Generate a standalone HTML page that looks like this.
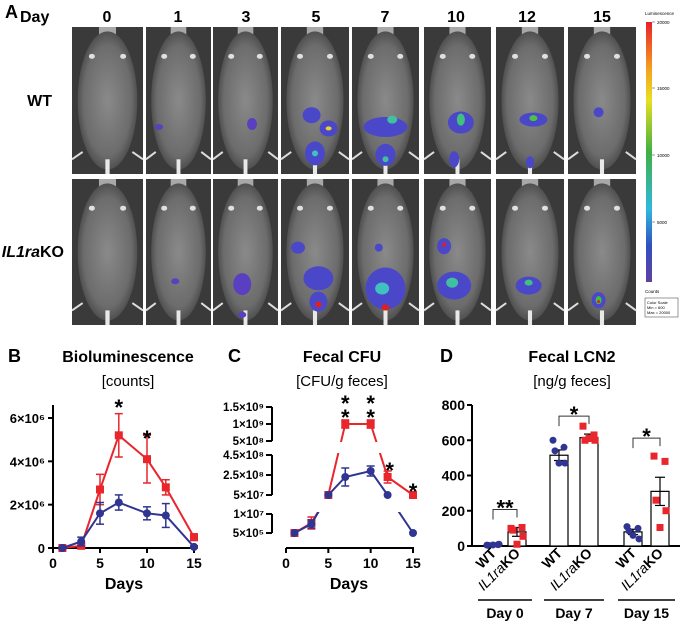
<!DOCTYPE html>
<html><head><meta charset="utf-8"><style>
html,body{margin:0;padding:0;background:#fff;}
svg{display:block;font-family:"Liberation Sans",Arial,sans-serif;}
</style></head><body>
<svg id="fig" width="684" height="625" viewBox="0 0 684 625" xmlns="http://www.w3.org/2000/svg">
<defs>
<linearGradient id="cbar" x1="0" y1="0" x2="0" y2="1">
<stop offset="0" stop-color="#e8202a"/><stop offset="0.18" stop-color="#f5a020"/><stop offset="0.3" stop-color="#e8e020"/>
<stop offset="0.5" stop-color="#40b040"/><stop offset="0.72" stop-color="#30b8e0"/><stop offset="0.86" stop-color="#3050c0"/><stop offset="1" stop-color="#6040a0"/>
</linearGradient>
<radialGradient id="body" cx="0.5" cy="0.5" r="0.5">
<stop offset="0" stop-color="#8a8a8a"/><stop offset="0.8" stop-color="#6c6c6c"/><stop offset="1" stop-color="#505050"/>
</radialGradient>
</defs>
<g id="panelA"></g>
<g id="panelB"></g>
<g id="panelC"></g>
<g id="panelD"></g>
</svg>
<script>
// ---------- data ----------
const imgDays = ["0","1","3","5","7","10","12","15"];
const bDays = [1,3,5,7,10,12,15];
const bKO = [0,0.1,2.7,5.2,4.1,2.8,0.5];
const bKOerr = [0.05,0.1,0.7,1.0,1.1,0.35,0.15];
const bWT = [0,0.3,1.6,2.1,1.6,1.5,0.05];
const bWTerr = [0.05,0.2,0.5,0.35,0.3,0.55,0.05];
const bYTicks = [0,2,4,6];
const bYLabels = ["0","2×10⁶","4×10⁶","6×10⁶"];
const xTicks = [0,5,10,15];
const cDays = [1,3,5,7,10,12,15];
const cKO = [5e5,5.5e6,5e7,1e9,1e9,2.3e8,5e7];
const cWT = [5e5,5e6,5e7,2.3e8,2.9e8,5e7,5e5];
const cKOerrHi = [0,3e6,0,1.2e8,1.2e8,6e7,0];
const cWTerrHi = [0,2e6,0,9e7,5e7,0,0];
const cTickVals = [1.5e9,1e9,5e8,4.5e8,2.5e8,5e7,1e7,5e5];
const cTickLabels = ["1.5×10⁹","1×10⁹","5×10⁸","4.5×10⁸","2.5×10⁸","5×10⁷","1×10⁷","5×10⁵"];
const dGroups = ["Day 0","Day 7","Day 15"];
const dMeans = [5,80,515,615,80,310];
const dSem = [2,25,30,20,15,80];
const dPoints = [[5,8,3,10,6],[100,105,90,55,10],[600,560,540,470,470],[680,630,600,600,610],[110,100,85,40,60],[510,480,260,200,105]];
const dYTicks = [0,200,400,600,800];
const dStars = ["**","*","*"];

const NS="http://www.w3.org/2000/svg";
function el(parent,tag,attrs,txt){const e=document.createElementNS(NS,tag);for(const k in attrs)e.setAttribute(k,attrs[k]);if(txt!==undefined)e.textContent=txt;parent.appendChild(e);return e;}

// ---------- panel A ----------
const A=document.getElementById('panelA');
let t=el(A,'text',{x:5,y:18,'font-size':18,'font-weight':'bold'},'A');


t=el(A,'text',{x:20,y:22,'font-size':16,'font-weight':'bold'},'Day');


const colX=[72,146,213,281,352,424,496,568];
const colW=[71,65,65,68,67,67,68,68];
const blobs={
 "0-1":[[0.2,0.68,4,3,'#5a40c0']],"0-2":[[0.6,0.66,5,6,'#5a40c0']],
 "0-3":[[0.45,0.6,9,8,'#4a48c8'],[0.7,0.69,9,8,'#4a48c8'],[0.7,0.69,3,2,'#f0d020'],[0.5,0.86,10,12,'#4a48c8'],[0.5,0.86,3,3,'#40c0c0']],
 "0-4":[[0.5,0.68,22,10,'#4a48c8'],[0.6,0.63,5,4,'#40c0a0'],[0.5,0.87,10,11,'#4a48c8'],[0.5,0.9,3,3,'#40c0a0']],
 "0-5":[[0.55,0.65,13,11,'#4a48c8'],[0.55,0.63,4,6,'#40c080'],[0.45,0.9,5,8,'#4a48c8']],
 "0-6":[[0.55,0.63,14,7,'#4a48c8'],[0.55,0.62,4,3,'#50c040'],[0.5,0.92,4,6,'#4a48c8']],
 "0-7":[[0.45,0.58,5,5,'#4a48c8']],
 "1-1":[[0.45,0.7,4,3,'#5a40c0']],"1-2":[[0.45,0.72,9,11,'#5a40c0'],[0.45,0.93,4,3,'#5a40c0']],
 "1-3":[[0.25,0.47,7,6,'#4a48c8'],[0.55,0.68,15,12,'#4a48c8'],[0.55,0.84,9,10,'#4a48c8'],[0.55,0.86,3,3,'#e02020']],
 "1-4":[[0.4,0.47,4,4,'#4a48c8'],[0.5,0.75,20,21,'#4a48c8'],[0.45,0.75,7,6,'#40c0c0'],[0.5,0.88,4,3,'#e02020']],
 "1-5":[[0.3,0.46,7,8,'#4a48c8'],[0.3,0.45,2,2,'#e02020'],[0.45,0.73,17,14,'#4a48c8'],[0.42,0.71,6,5,'#40c0a0']],
 "1-6":[[0.48,0.73,13,9,'#4a48c8'],[0.48,0.71,4,3,'#40c080']],
 "1-7":[[0.45,0.83,7,8,'#4a48c8'],[0.45,0.83,3,4,'#40c040'],[0.45,0.84,1.5,1.5,'#e02020']]
};
for(let r=0;r<2;r++){
 const y0=r?179:27, h=r?146:147;
 for(let i=0;i<8;i++){
  const g=el(A,'g',{});
  
  
  const x=colX[i],w=colW[i];
  el(g,'rect',{x:x,y:y0,width:w,height:h,fill:'#3a3a3a'});
  el(g,'rect',{x:x+w*0.38,y:y0,width:w*0.24,height:h*0.08,fill:'#a8a8a8'});
  el(g,'ellipse',{cx:x+w/2,cy:y0+h*0.5,rx:w*0.42,ry:h*0.47,fill:'url(#body)'});
  el(g,'rect',{x:x+w*0.47,y:y0+h*0.9,width:w*0.06,height:h*0.1,fill:'#e8e8e8'});
  el(g,'ellipse',{cx:x+w*0.28,cy:y0+h*0.2,rx:3,ry:2.5,fill:'#e0e0e0'});
  el(g,'ellipse',{cx:x+w*0.72,cy:y0+h*0.2,rx:3,ry:2.5,fill:'#e0e0e0'});
  el(g,'line',{x1:x+w*0.15,y1:y0+h*0.85,x2:x,y2:y0+h*0.9,stroke:'#ddd','stroke-width':2});
  el(g,'line',{x1:x+w*0.85,y1:y0+h*0.85,x2:x+w,y2:y0+h*0.9,stroke:'#ddd','stroke-width':2});
  (blobs[r+'-'+i]||[]).forEach(b=>el(g,'ellipse',{cx:x+w*b[0],cy:y0+h*b[1],rx:b[2],ry:b[3],fill:b[4]}));
 }
}
const hdrX=[107,178,246,316,385,456,527,602];
imgDays.forEach((d,i)=>{const e=el(A,'text',{x:hdrX[i],y:22,'font-size':16,'font-weight':'bold','text-anchor':'middle'},d);
 
 });
t=el(A,'text',{x:52,y:106,'font-size':16,'font-weight':'bold','text-anchor':'end'},'WT');


t=el(A,'text',{x:64,y:257,'font-size':16,'font-weight':'bold','text-anchor':'end'});


el(t,'tspan',{'font-style':'italic'},'IL1ra');el(t,'tspan',{},'KO');
// color bar
const cb=el(A,'g',{});


el(cb,'rect',{x:646,y:22,width:6,height:260,fill:'url(#cbar)'});
el(cb,'text',{x:645,y:15,'font-size':4.5},'Luminescence');
[["20000",22],["15000",88],["10000",155],["5000",222]].forEach(p=>{el(cb,'line',{x1:652,y1:p[1],x2:655,y2:p[1],stroke:'#333','stroke-width':0.5});el(cb,'text',{x:657,y:p[1]+2,'font-size':4.5},p[0]);});
el(cb,'text',{x:645,y:293,'font-size':4.5},'Counts');
el(cb,'rect',{x:645,y:298,width:33,height:19,fill:'none',stroke:'#333','stroke-width':0.5});
el(cb,'text',{x:647,y:304,'font-size':4},'Color Scale');
el(cb,'text',{x:647,y:309,'font-size':4},'Min = 600');
el(cb,'text',{x:647,y:314,'font-size':4},'Max = 20000');

// ---------- panel B ----------
const B=document.getElementById('panelB');
const RED='#e8262c',BLUE='#2f3590';
function star(p,x,y,name){const s=el(p,'text',{x:x,y:y,'font-size':22,'text-anchor':'middle','font-weight':'bold'},'*');}
function hdr(p,letter,lx,title,tx,sub){
 let e=el(p,'text',{x:lx,y:362,'font-size':18,'font-weight':'bold'},letter);
 
 
 e=el(p,'text',{x:tx,y:362,'font-size':16,'font-weight':'bold','text-anchor':'middle'},title);
 
 
 e=el(p,'text',{x:tx,y:386,'font-size':15,'text-anchor':'middle'},sub);
 
 
}
hdr(B,'B',8,'Bioluminescence',128,'[counts]');
const bx=d=>53+d*(194-53)/15, by=v=>548-v*(548-418)/6;
el(B,'line',{x1:53,y1:405,x2:53,y2:549,stroke:'#000','stroke-width':2});
el(B,'line',{x1:52,y1:548,x2:195,y2:548,stroke:'#000','stroke-width':2});
bYTicks.forEach((v,i)=>{el(B,'line',{x1:48,y1:by(v),x2:53,y2:by(v),stroke:'#000','stroke-width':2});
 const e=el(B,'text',{x:45,y:by(v)+5,'font-size':13,'font-weight':'bold','text-anchor':'end'},bYLabels[i]);
 
 });
xTicks.forEach(v=>{el(B,'line',{x1:bx(v),y1:548,x2:bx(v),y2:553,stroke:'#000','stroke-width':2});
 const e=el(B,'text',{x:bx(v),y:568,'font-size':14,'font-weight':'bold','text-anchor':'middle'},v);
 
 });
t=el(B,'text',{x:124,y:589,'font-size':16,'font-weight':'bold','text-anchor':'middle'},'Days');


function series(p,xs,ys,err,col,name,sq){
 const g=el(p,'g',{});
 el(g,'polyline',{points:xs.map((x,i)=>x+','+ys[i]).join(' '),fill:'none',stroke:col,'stroke-width':2});
 xs.forEach((x,i)=>{
  if(err){el(g,'line',{x1:x,y1:err[i][0],x2:x,y2:err[i][1],stroke:col,'stroke-width':1.5});
   [0,1].forEach(k=>el(g,'line',{x1:x-4,y1:err[i][k],x2:x+4,y2:err[i][k],stroke:col,'stroke-width':1.5}));}
  const m=sq?el(g,'rect',{x:x-4,y:ys[i]-4,width:8,height:8,fill:col}):el(g,'circle',{cx:x,cy:ys[i],r:4,fill:col});
  
  
 });
 return g;
}
series(B,bDays.map(bx),bKO.map(by),bKO.map((v,i)=>[by(v-bKOerr[i]),by(v+bKOerr[i])]),RED,'ko-series',true);
series(B,bDays.map(bx),bWT.map(by),bWT.map((v,i)=>[by(v-bWTerr[i]),by(v+bWTerr[i])]),BLUE,'wt-series',false);
star(B,bx(7),by(6.5)+8,'significance-day7');star(B,bx(10),by(4.9)+4,'significance-day10');

// ---------- panel C ----------
const C=document.getElementById('panelC');
hdr(C,'C',228,'Fecal CFU',342,'[CFU/g feces]');
const cx=d=>286+d*(413-286)/15;
function cy(v){
 if(v>=5e8) return 441-(v-5e8)/(1.5e9-5e8)*(441-407);
 if(v>=5e7) return 495-(v-5e7)/(4.5e8-5e7)*(495-455);
 return 533-(v-5e5)/(1e7-5e5)*(533-514);
}
el(C,'clipPath',{id:'cclip'});
const cp=C.lastChild;
el(cp,'rect',{x:270,y:395,width:160,height:47});
el(cp,'rect',{x:270,y:453,width:160,height:45});
el(cp,'rect',{x:270,y:512,width:160,height:30});
[[407,441],[455,495],[514,533]].forEach(s=>el(C,'line',{x1:272,y1:s[0],x2:272,y2:s[1],stroke:'#000','stroke-width':2}));
cTickVals.forEach((v,i)=>{el(C,'line',{x1:266,y1:cy(v),x2:272,y2:cy(v),stroke:'#000','stroke-width':2});
 const e=el(C,'text',{x:264,y:cy(v)+4,'font-size':11.5,'font-weight':'bold','text-anchor':'end'},cTickLabels[i]);
 
 });
el(C,'line',{x1:286,y1:548,x2:414,y2:548,stroke:'#000','stroke-width':2});
xTicks.forEach(v=>{el(C,'line',{x1:cx(v),y1:548,x2:cx(v),y2:553,stroke:'#000','stroke-width':2});
 const e=el(C,'text',{x:cx(v),y:568,'font-size':14,'font-weight':'bold','text-anchor':'middle'},v);
 
 });
t=el(C,'text',{x:349,y:589,'font-size':16,'font-weight':'bold','text-anchor':'middle'},'Days');


function cseries(vals,hi,col,name,sq){
 const g=el(C,'g',{});
 const xs=cDays.map(cx),ys=vals.map(cy);
 el(g,'polyline',{points:xs.map((x,i)=>x+','+ys[i]).join(' '),fill:'none',stroke:col,'stroke-width':2,'clip-path':'url(#cclip)'});
 xs.forEach((x,i)=>{
  if(hi[i]>0){const y1=cy(vals[i]+hi[i]),y2=2*ys[i]-y1;
   el(g,'line',{x1:x,y1:y1,x2:x,y2:y2,stroke:col,'stroke-width':1.5});
   [y1,y2].forEach(yy=>el(g,'line',{x1:x-4,y1:yy,x2:x+4,y2:yy,stroke:col,'stroke-width':1.5}));}
  const m=sq?el(g,'rect',{x:x-4,y:ys[i]-4,width:8,height:8,fill:col}):el(g,'circle',{cx:x,cy:ys[i],r:4,fill:col});
  
  
 });
}
cseries(cKO,cKOerrHi,RED,'ko-series',true);
cseries(cWT,cWTerrHi,BLUE,'wt-series',false);
[[7,402],[7,416],[10,402],[10,416],[12,469],[15,490]].forEach((s,i)=>star(C,cx(s[0])+(s[0]==12?2:0),s[1]+9,'significance-star-'+i));

// ---------- panel D ----------
const D=document.getElementById('panelD');
hdr(D,'D',440,'Fecal LCN2',572,'[ng/g feces]');
const dy=v=>546-v*(546-405)/800;
const barX=[493,517,559,589,633,660];
el(D,'line',{x1:472,y1:405,x2:472,y2:547,stroke:'#000','stroke-width':2});
el(D,'line',{x1:471,y1:546,x2:680,y2:546,stroke:'#000','stroke-width':2});
dYTicks.forEach(v=>{el(D,'line',{x1:467,y1:dy(v),x2:472,y2:dy(v),stroke:'#000','stroke-width':2});
 const e=el(D,'text',{x:465,y:dy(v)+5,'font-size':14,'font-weight':'bold','text-anchor':'end'},v);
 
 });
dMeans.forEach((m,i)=>{
 const x=barX[i],ko=i%2==1,col=ko?RED:BLUE;
 const g=el(D,'g',{});
 el(g,'rect',{x:x-9,y:dy(m),width:18,height:546-dy(m),fill:'#fff',stroke:'#000','stroke-width':1.2});
 el(g,'line',{x1:x,y1:dy(m-dSem[i]),x2:x,y2:dy(m+dSem[i]),stroke:'#000','stroke-width':1.2});
 [m-dSem[i],m+dSem[i]].forEach(v=>el(g,'line',{x1:x-5,y1:dy(v),x2:x+5,y2:dy(v),stroke:'#000','stroke-width':1.2}));
 const offs=[-6,5,-4,6,0];
 dPoints[i].forEach((v,j)=>{const px=x+offs[j];
  const p=ko?el(g,'rect',{x:px-3.5,y:dy(v)-3.5,width:7,height:7,fill:col}):el(g,'circle',{cx:px,cy:dy(v),r:3.5,fill:col});
  
  });
 const lab=el(D,'text',{transform:`translate(${x+4},${554}) rotate(-45)`,'font-size':14,'font-weight':'bold','text-anchor':'end'});
 
 
 if(ko){el(lab,'tspan',{'font-style':'italic','font-weight':'normal'},'IL1ra');el(lab,'tspan',{},'KO');}else lab.textContent='WT';
});
dGroups.forEach((gname,k)=>{
 const x1=barX[2*k],x2=barX[2*k+1];
 const top=dy(Math.max(...dPoints[2*k],...dPoints[2*k+1]))-(k==1?10:18);
 const br=el(D,'polyline',{points:`${x1},${top+10} ${x1},${top} ${x2},${top} ${x2},${top+8}`,fill:'none',stroke:'#333','stroke-width':1});
 
 
 const s=el(D,'text',{x:(x1+x2)/2,y:top+6,'font-size':22,'font-weight':'bold','text-anchor':'middle'},dStars[k]);
 
 
 el(D,'line',{x1:x1-15,y1:600,x2:x2+15,y2:600,stroke:'#000','stroke-width':1.5});
 const e=el(D,'text',{x:(x1+x2)/2,y:618,'font-size':14,'font-weight':'bold','text-anchor':'middle'},gname);
 
 
});
</script>
</body></html>
